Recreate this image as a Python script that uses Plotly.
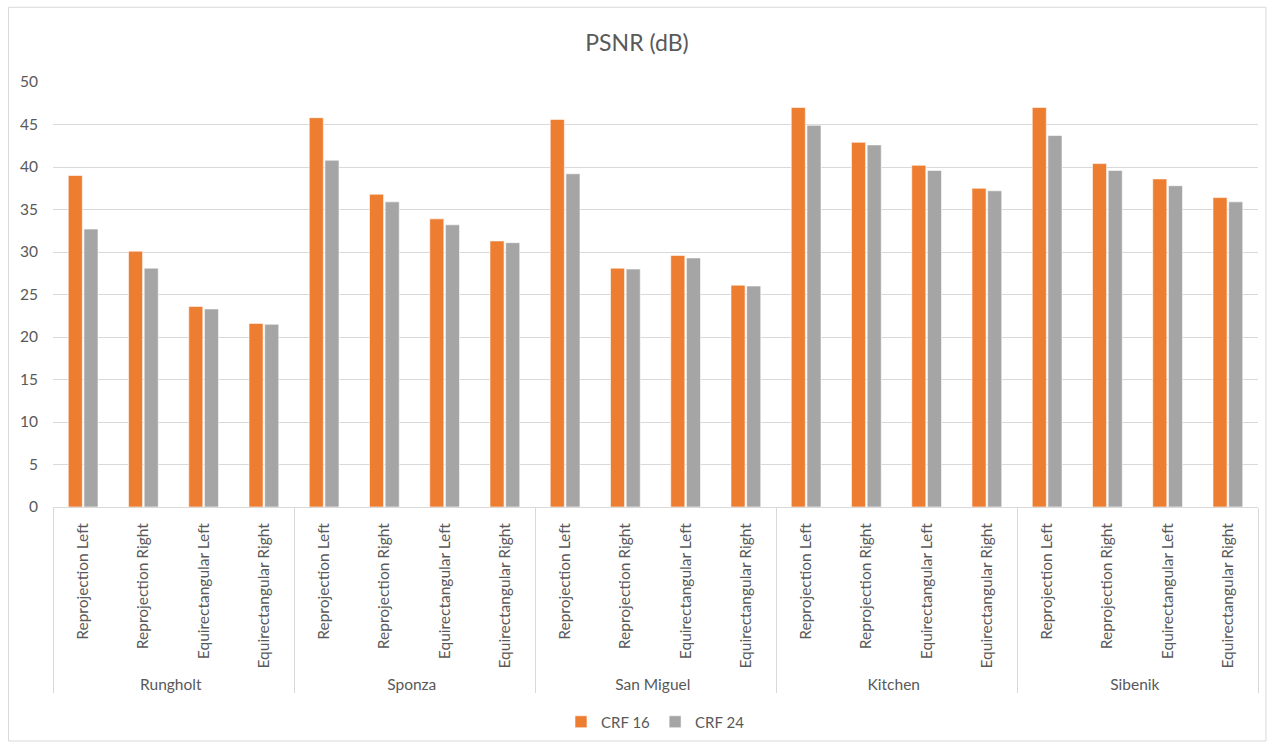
import plotly.graph_objects as go

# Scenes and view types shown on the two-level category axis
scenes = ["Rungholt", "Sponza", "San Miguel", "Kitchen", "Sibenik"]
views = ["Reprojection Left", "Reprojection Right",
         "Equirectangular Left", "Equirectangular Right"]

# PSNR in dB, one row per scene, in the order of `views`
crf16 = [
    [39.0, 30.1, 23.6, 21.6],
    [45.8, 36.8, 33.9, 31.3],
    [45.6, 28.1, 29.6, 26.1],
    [47.0, 42.9, 40.2, 37.5],
    [47.0, 40.4, 38.6, 36.4],
]
crf24 = [
    [32.7, 28.1, 23.3, 21.5],
    [40.8, 35.9, 33.2, 31.1],
    [39.2, 28.0, 29.3, 26.0],
    [44.9, 42.6, 39.6, 37.2],
    [43.7, 39.6, 37.8, 35.9],
]

x_outer = [s for s in scenes for _ in views]
x_inner = [v for _ in scenes for v in views]

FONT = "Lato, 'Liberation Sans', sans-serif"
TEXT = "#595959"
GRID = "#d9d9d9"

fig = go.Figure()
fig.add_trace(go.Bar(
    name="CRF 16", x=[x_outer, x_inner],
    y=[v for row in crf16 for v in row],
    marker=dict(color="#ed7d31", line=dict(color="white", width=0.6)),
))
fig.add_trace(go.Bar(
    name="CRF 24", x=[x_outer, x_inner],
    y=[v for row in crf24 for v in row],
    marker=dict(color="#a5a5a5", line=dict(color="white", width=0.6)),
))

fig.update_layout(
    width=1274, height=749,
    margin=dict(l=53, r=16, t=82, b=242, autoexpand=False),
    paper_bgcolor="white", plot_bgcolor="white",
    font=dict(family=FONT, color=TEXT, size=15),
    title=dict(text="PSNR (dB)", x=0.5, xanchor="center",
               y=1 - 43 / 749, yanchor="middle",
               font=dict(size=23, color=TEXT, family=FONT)),
    barmode="group", bargap=0.48, bargroupgap=0.1,
    showlegend=True,
    legend=dict(orientation="h", x=0.5, xanchor="center",
                yref="container", y=(749 - 722) / 749, yanchor="middle",
                bgcolor="rgba(0,0,0,0)",
                font=dict(size=15, color=TEXT, family=FONT),
                itemwidth=30, traceorder="normal"),
    shapes=[dict(type="rect", xref="paper", yref="paper",
                 x0=-0.0369, x1=1.0066, y0=-0.5506, y1=1.1758,
                 line=dict(color=GRID, width=1), layer="below")],
)

fig.update_yaxes(range=[0, 50], dtick=5, showgrid=True, gridcolor=GRID,
                 gridwidth=1, zeroline=False, showline=False, ticks="",
                 ticklabelstandoff=14, automargin=False,
                 tickfont=dict(size=15.5, color=TEXT, family=FONT))
fig.update_xaxes(type="multicategory", tickangle=-90, showline=True,
                 linecolor=GRID, linewidth=1, ticks="",
                 ticklabelstandoff=9, automargin=False,
                 showdividers=True, dividercolor=GRID, dividerwidth=1,
                 tickfont=dict(size=15.5, color=TEXT, family=FONT))

fig.write_html("out.html")
